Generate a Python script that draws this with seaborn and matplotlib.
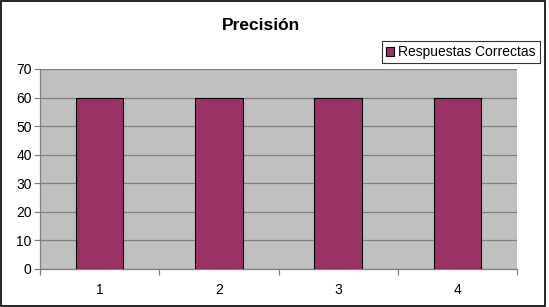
import matplotlib
matplotlib.use("Agg")
import matplotlib.pyplot as plt
import seaborn as sns
import pandas as pd
from matplotlib.patches import Rectangle

categories = ["1", "2", "3", "4"]
values = [60, 60, 60, 60]
series_name = "Respuestas Correctas"
title = "Precisión"
yticks = [0, 10, 20, 30, 40, 50, 60, 70]

sns.set_theme(style="white")
plt.rcParams['font.family'] = ['Liberation Sans', 'DejaVu Sans']
plt.rcParams['text.color'] = 'black'
plt.rcParams['xtick.color'] = 'black'
plt.rcParams['ytick.color'] = 'black'

df = pd.DataFrame({"cat": categories, "val": values})

fig = plt.figure(figsize=(5.49, 3.07), dpi=100)
fig.patch.set_facecolor("white")
ax = fig.add_axes([40/549, 1-269/307, (517-40)/549, (269-69)/307])
ax.set_facecolor("#C0C0C0")

sns.barplot(data=df, x="cat", y="val", color="#993366", width=0.4,
            edgecolor="black", linewidth=0.8, saturation=1, ax=ax,
            label=series_name, zorder=3)

ax.set_xlim(-0.5, 3.5)
ax.set_ylim(0, 70)
ax.set_yticks(yticks)
ax.yaxis.grid(True, color="#808080", linewidth=0.9, zorder=0)
ax.set_axisbelow(True)
ax.set_xlabel("")
ax.set_ylabel("")
for s in ["top", "right"]:
    ax.spines[s].set_visible(False)
for s in ["left", "bottom"]:
    ax.spines[s].set_color("#808080")
    ax.spines[s].set_linewidth(0.9)

ax.tick_params(axis="y", which="major", length=4, width=0.9, color="#808080",
               labelsize=10, labelcolor="black", pad=2, left=True)
ax.tick_params(axis="x", which="major", length=0, labelsize=10, labelcolor="black", pad=10)
ax.set_xticks([-0.5, 0.5, 1.5, 2.5, 3.5], minor=True)
ax.tick_params(axis="x", which="minor", length=4, width=0.9, color="#808080", bottom=True)

if ax.get_legend() is not None:
    ax.get_legend().remove()

fig.text(261/549, 1-25/307, title, ha="center", va="center",
         fontsize=12.5, fontweight="bold", color="black")

handles, labels = ax.get_legend_handles_labels()
leg = fig.legend(handles[:1], labels[:1], loc="upper right",
                 bbox_to_anchor=(540/549, 1-41/307), frameon=True,
                 fancybox=False, fontsize=10, handlelength=0.6,
                 handleheight=0.6, handletextpad=0.3, borderpad=0.3,
                 borderaxespad=0, labelcolor="black")
leg.get_frame().set_edgecolor("black")
leg.get_frame().set_linewidth(0.8)

fig.patches.append(Rectangle((1/549, 1/307), 544/549, 305/307,
                             transform=fig.transFigure, fill=False,
                             edgecolor="black", linewidth=1.2))

fig.savefig("out.png", dpi=100, facecolor="white")
